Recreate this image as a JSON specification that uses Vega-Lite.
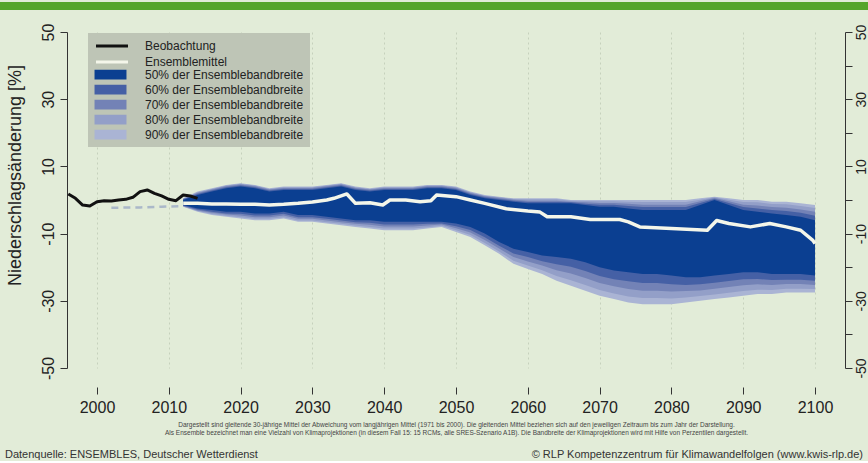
{
  "$schema": "https://vega.github.io/schema/vega-lite/v6.json",
  "background": "#e2ecd8",
  "padding": 0,
  "spacing": 12,
  "config": {
    "view": {"stroke": null},
    "font": "Liberation Sans",
    "axis": {"labelFont": "Liberation Sans", "titleFont": "Liberation Sans", "labelColor": "#222", "titleColor": "#222", "domainColor": "#333", "tickColor": "#333", "gridColor": "#b9c6b0", "gridDash": [2, 3], "gridOpacity": 0.7},
    "legend": {"labelFont": "Liberation Sans", "titleFont": "Liberation Sans", "labelLimit": 260}
  },
  "datasets": {
    "bands": [
      {"year":2012,"l90":-2.0,"l80":-1.9,"l70":-1.8,"l60":-1.7,"l50":-1.5,"u50":0.0,"u60":0.2,"u70":0.3,"u80":0.4,"u90":0.5},
      {"year":2014,"l90":-3.5,"l80":-3.3,"l70":-3.1,"l60":-2.8,"l50":-2.5,"u50":1.5,"u60":1.8,"u70":2.1,"u80":2.3,"u90":2.5},
      {"year":2016,"l90":-4.5,"l80":-4.2,"l70":-3.8,"l60":-3.5,"l50":-3.0,"u50":2.5,"u60":2.8,"u70":3.1,"u80":3.3,"u90":3.5},
      {"year":2018,"l90":-5.0,"l80":-4.7,"l70":-4.3,"l60":-4.0,"l50":-3.5,"u50":3.5,"u60":3.8,"u70":4.1,"u80":4.3,"u90":4.5},
      {"year":2020,"l90":-5.5,"l80":-5.1,"l70":-4.6,"l60":-4.1,"l50":-3.5,"u50":4.0,"u60":4.3,"u70":4.6,"u80":4.8,"u90":5.0},
      {"year":2022,"l90":-6.0,"l80":-5.6,"l70":-5.1,"l60":-4.6,"l50":-4.0,"u50":3.5,"u60":3.8,"u70":4.1,"u80":4.3,"u90":4.5},
      {"year":2024,"l90":-6.0,"l80":-5.6,"l70":-5.1,"l60":-4.6,"l50":-4.0,"u50":2.5,"u60":2.8,"u70":3.1,"u80":3.3,"u90":3.5},
      {"year":2026,"l90":-5.5,"l80":-5.1,"l70":-4.6,"l60":-4.1,"l50":-3.5,"u50":3.0,"u60":3.3,"u70":3.6,"u80":3.8,"u90":4.0},
      {"year":2028,"l90":-6.5,"l80":-6.1,"l70":-5.6,"l60":-5.1,"l50":-4.5,"u50":3.0,"u60":3.3,"u70":3.6,"u80":3.8,"u90":4.0},
      {"year":2030,"l90":-6.5,"l80":-6.1,"l70":-5.6,"l60":-5.1,"l50":-4.5,"u50":3.0,"u60":3.3,"u70":3.6,"u80":3.8,"u90":4.0},
      {"year":2032,"l90":-7.0,"l80":-6.6,"l70":-6.1,"l60":-5.6,"l50":-5.0,"u50":3.5,"u60":3.8,"u70":4.1,"u80":4.3,"u90":4.5},
      {"year":2034,"l90":-7.5,"l80":-7.1,"l70":-6.6,"l60":-6.1,"l50":-5.5,"u50":4.0,"u60":4.3,"u70":4.6,"u80":4.8,"u90":5.0},
      {"year":2036,"l90":-8.0,"l80":-7.6,"l70":-7.1,"l60":-6.6,"l50":-6.0,"u50":3.0,"u60":3.3,"u70":3.6,"u80":3.8,"u90":4.0},
      {"year":2038,"l90":-8.5,"l80":-8.0,"l70":-7.4,"l60":-6.8,"l50":-6.0,"u50":2.5,"u60":2.8,"u70":3.1,"u80":3.3,"u90":3.5},
      {"year":2040,"l90":-9.0,"l80":-8.5,"l70":-7.9,"l60":-7.3,"l50":-6.5,"u50":3.0,"u60":3.3,"u70":3.6,"u80":3.8,"u90":4.0},
      {"year":2042,"l90":-9.0,"l80":-8.5,"l70":-7.9,"l60":-7.3,"l50":-6.5,"u50":3.0,"u60":3.3,"u70":3.6,"u80":3.8,"u90":4.0},
      {"year":2044,"l90":-9.0,"l80":-8.5,"l70":-7.9,"l60":-7.3,"l50":-6.5,"u50":3.0,"u60":3.3,"u70":3.6,"u80":3.8,"u90":4.0},
      {"year":2046,"l90":-8.5,"l80":-8.1,"l70":-7.6,"l60":-7.1,"l50":-6.5,"u50":3.5,"u60":3.8,"u70":4.1,"u80":4.3,"u90":4.5},
      {"year":2048,"l90":-8.0,"l80":-7.7,"l70":-7.3,"l60":-7.0,"l50":-6.5,"u50":3.5,"u60":3.8,"u70":4.1,"u80":4.3,"u90":4.5},
      {"year":2050,"l90":-9.5,"l80":-9.0,"l70":-8.4,"l60":-7.8,"l50":-7.0,"u50":3.0,"u60":3.3,"u70":3.6,"u80":3.8,"u90":4.0},
      {"year":2052,"l90":-11.0,"l80":-10.4,"l70":-9.7,"l60":-8.9,"l50":-8.0,"u50":1.5,"u60":1.8,"u70":2.1,"u80":2.3,"u90":2.5},
      {"year":2054,"l90":-13.5,"l80":-12.8,"l70":-11.9,"l60":-11.1,"l50":-10.0,"u50":0.5,"u60":0.8,"u70":1.1,"u80":1.3,"u90":1.5},
      {"year":2056,"l90":-16.0,"l80":-15.3,"l70":-14.4,"l60":-13.6,"l50":-12.5,"u50":0.0,"u60":0.3,"u70":0.6,"u80":0.8,"u90":1.0},
      {"year":2058,"l90":-19.0,"l80":-18.1,"l70":-17.0,"l60":-15.9,"l50":-14.5,"u50":-0.5,"u60":-0.2,"u70":0.1,"u80":0.3,"u90":0.5},
      {"year":2060,"l90":-20.5,"l80":-19.5,"l70":-18.3,"l60":-17.0,"l50":-15.5,"u50":-1.0,"u60":-0.6,"u70":-0.2,"u80":0.2,"u90":0.5},
      {"year":2062,"l90":-22.0,"l80":-20.9,"l70":-19.5,"l60":-18.2,"l50":-16.5,"u50":-1.0,"u60":-0.6,"u70":-0.2,"u80":0.2,"u90":0.5},
      {"year":2064,"l90":-24.0,"l80":-22.6,"l70":-20.9,"l60":-19.1,"l50":-17.0,"u50":-1.0,"u60":-0.6,"u70":-0.2,"u80":0.2,"u90":0.5},
      {"year":2066,"l90":-25.5,"l80":-23.9,"l70":-21.9,"l60":-19.9,"l50":-17.5,"u50":-1.0,"u60":-0.7,"u70":-0.5,"u80":-0.2,"u90":0.0},
      {"year":2068,"l90":-27.0,"l80":-25.3,"l70":-23.2,"l60":-21.1,"l50":-18.5,"u50":-1.5,"u60":-1.1,"u70":-0.7,"u80":-0.3,"u90":0.0},
      {"year":2070,"l90":-28.5,"l80":-26.8,"l70":-24.7,"l60":-22.6,"l50":-20.0,"u50":-2.0,"u60":-1.4,"u70":-0.9,"u80":-0.4,"u90":0.0},
      {"year":2072,"l90":-29.5,"l80":-27.8,"l70":-25.7,"l60":-23.6,"l50":-21.0,"u50":-2.0,"u60":-1.4,"u70":-0.9,"u80":-0.4,"u90":0.0},
      {"year":2074,"l90":-30.5,"l80":-28.7,"l70":-26.5,"l60":-24.2,"l50":-21.5,"u50":-2.5,"u60":-1.8,"u70":-1.1,"u80":-0.5,"u90":0.0},
      {"year":2076,"l90":-31.0,"l80":-29.2,"l70":-27.0,"l60":-24.7,"l50":-22.0,"u50":-3.0,"u60":-2.1,"u70":-1.4,"u80":-0.6,"u90":0.0},
      {"year":2078,"l90":-31.0,"l80":-29.2,"l70":-27.0,"l60":-24.7,"l50":-22.0,"u50":-3.0,"u60":-2.1,"u70":-1.4,"u80":-0.6,"u90":0.0},
      {"year":2080,"l90":-31.0,"l80":-29.3,"l70":-27.2,"l60":-25.1,"l50":-22.5,"u50":-3.0,"u60":-2.1,"u70":-1.4,"u80":-0.6,"u90":0.0},
      {"year":2082,"l90":-30.5,"l80":-29.0,"l70":-27.1,"l60":-25.3,"l50":-23.0,"u50":-3.0,"u60":-2.1,"u70":-1.4,"u80":-0.6,"u90":0.0},
      {"year":2084,"l90":-30.0,"l80":-28.6,"l70":-26.9,"l60":-25.1,"l50":-23.0,"u50":-1.5,"u60":-0.9,"u70":-0.4,"u80":0.1,"u90":0.5},
      {"year":2086,"l90":-29.5,"l80":-28.1,"l70":-26.4,"l60":-24.6,"l50":-22.5,"u50":0.0,"u60":0.3,"u70":0.6,"u80":0.8,"u90":1.0},
      {"year":2088,"l90":-29.0,"l80":-27.6,"l70":-25.9,"l60":-24.1,"l50":-22.0,"u50":-1.5,"u60":-0.9,"u70":-0.4,"u80":0.1,"u90":0.5},
      {"year":2090,"l90":-28.5,"l80":-27.1,"l70":-25.4,"l60":-23.6,"l50":-21.5,"u50":-3.0,"u60":-2.1,"u70":-1.4,"u80":-0.6,"u90":0.0},
      {"year":2092,"l90":-28.0,"l80":-26.7,"l70":-25.1,"l60":-23.5,"l50":-21.5,"u50":-3.5,"u60":-2.5,"u70":-1.6,"u80":-0.7,"u90":0.0},
      {"year":2094,"l90":-28.0,"l80":-26.8,"l70":-25.3,"l60":-23.8,"l50":-22.0,"u50":-4.0,"u60":-3.0,"u70":-2.1,"u80":-1.2,"u90":-0.5},
      {"year":2096,"l90":-27.5,"l80":-26.4,"l70":-25.0,"l60":-23.7,"l50":-22.0,"u50":-4.5,"u60":-3.3,"u70":-2.3,"u80":-1.3,"u90":-0.5},
      {"year":2098,"l90":-27.5,"l80":-26.4,"l70":-25.0,"l60":-23.7,"l50":-22.0,"u50":-5.0,"u60":-3.8,"u70":-2.8,"u80":-1.8,"u90":-1.0},
      {"year":2100,"l90":-27.5,"l80":-26.5,"l70":-25.3,"l60":-24.0,"l50":-22.5,"u50":-6.0,"u60":-4.7,"u70":-3.5,"u80":-2.4,"u90":-1.5}
    ],
    "obs": [
      {"year":1996,"value":1.8},{"year":1997,"value":0.5},{"year":1998,"value":-1.5},{"year":1999,"value":-1.8},
      {"year":2000,"value":-0.5},{"year":2001,"value":-0.2},{"year":2002,"value":-0.3},{"year":2003,"value":0.0},
      {"year":2004,"value":0.2},{"year":2005,"value":0.8},{"year":2006,"value":2.5},{"year":2007,"value":3.0},
      {"year":2008,"value":2.0},{"year":2009,"value":1.2},{"year":2010,"value":0.2},{"year":2011,"value":-0.2},
      {"year":2012,"value":1.5},{"year":2013,"value":1.2},{"year":2014,"value":0.5}
    ],
    "ref": [
      {"year":2002,"value":-2.3},{"year":2006,"value":-2.2},{"year":2009,"value":-2.0},{"year":2012,"value":-1.8}
    ],
    "mean": [
      {"year":2012,"value":-1.0},{"year":2014,"value":-1.0},{"year":2016,"value":-1.2},{"year":2018,"value":-1.2},
      {"year":2020,"value":-1.3},{"year":2022,"value":-1.3},{"year":2024,"value":-1.5},{"year":2026,"value":-1.3},
      {"year":2028,"value":-1.0},{"year":2030,"value":-0.6},{"year":2032,"value":0.0},{"year":2033,"value":0.5},
      {"year":2034.8,"value":1.8},{"year":2036,"value":-1.0},{"year":2038,"value":-0.8},{"year":2039.8,"value":-1.5},
      {"year":2040.8,"value":0.0},{"year":2043,"value":0.0},{"year":2045,"value":-0.5},{"year":2046.5,"value":-0.2},
      {"year":2047.3,"value":1.5},{"year":2050,"value":1.0},{"year":2052,"value":0.0},{"year":2054,"value":-1.0},
      {"year":2057,"value":-2.6},{"year":2060,"value":-3.3},{"year":2061.7,"value":-3.6},{"year":2062.7,"value":-5.0},
      {"year":2066,"value":-5.0},{"year":2068.7,"value":-5.8},{"year":2072.8,"value":-5.8},{"year":2074,"value":-6.5},
      {"year":2075.6,"value":-8.0},{"year":2080,"value":-8.5},{"year":2085,"value":-9.0},{"year":2086.3,"value":-6.1},
      {"year":2088,"value":-7.0},{"year":2091,"value":-8.0},{"year":2093.7,"value":-7.0},{"year":2096,"value":-8.0},
      {"year":2098,"value":-9.0},{"year":2099.7,"value":-12.0},{"year":2100,"value":-13.0}
    ],
    "gridlevels": [
      {"level":-50},{"level":-40},{"level":-30},{"level":-20},{"level":-10},{"level":0},
      {"level":10},{"level":20},{"level":30},{"level":40},{"level":50}
    ],
    "footer": [
      {"side":"links","text":"Datenquelle: ENSEMBLES, Deutscher Wetterdienst"},
      {"side":"rechts","text":"© RLP Kompetenzzentrum für Klimawandelfolgen (www.kwis-rlp.de)"}
    ]
  },
  "vconcat": [
    {
      "width": 868,
      "height": 8,
      "view": {"fill": "#55a52a", "stroke": null},
      "data": {"values": [{}]},
      "mark": {"type": "text", "text": ""},
      "encoding": {}
    },
    {
      "width": 868,
      "height": 336,
      "layer": [
        {
          "encoding": {
            "x": {
              "field": "year", "type": "quantitative",
              "scale": {"domain": [1986.49, 2107.38], "nice": false, "zero": false},
              "axis": {
                "values": [2000,2010,2020,2030,2040,2050,2060,2070,2080,2090,2100],
                "format": "d", "offset": 19, "tickSize": 7, "labelFontSize": 16, "labelPadding": 5,
                "labelFlush": false, "grid": true, "domain": false,
                "title": ["Dargestellt sind gleitende 30-jährige Mittel der Abweichung vom langjährigen Mittel (1971 bis 2000). Die gleitenden Mittel beziehen sich auf den jeweiligen Zeitraum bis zum Jahr der Darstellung.", "Als Ensemble bezeichnet man eine Vielzahl von Klimaprojektionen (in diesem Fall 15: 15 RCMs, alle SRES-Szenario A1B). Die Bandbreite der Klimaprojektionen wird mit Hilfe von Perzentilen dargestellt."],
                "titleFontSize": 6.5, "titleFontWeight": "normal", "titleColor": "#444", "titlePadding": 6, "titleLineHeight": 8, "titleX": 456
              }
            }
          },
          "layer": [
            {
              "data": {"name": "gridlevels"},
              "mark": {"type": "rule", "color": "#b9c6b0", "strokeDash": [2, 3], "opacity": 0.7},
              "encoding": {
                "x": {"datum": 1996, "type": "quantitative"},
                "x2": {"datum": 2104},
                "y": {
                  "field": "level", "type": "quantitative",
                  "scale": {"domain": [-50, 50], "nice": false, "zero": false},
                  "axis": {
                    "orient": "left", "offset": -67,
                    "values": [-50,-40,-30,-20,-10,0,10,20,30,40,50],
                    "labelExpr": "abs(datum.value) % 20 == 10 ? toString(datum.value) : ''",
                    "labelAngle": -90, "labelFontSize": 16, "labelPadding": 4, "tickSize": 7,
                    "grid": false,
                    "title": "Niederschlagsänderung [%]", "titleFontSize": 18, "titleFontWeight": "normal",
                    "titlePadding": 16, "titleY": 143
                  }
                }
              }
            },
            {
              "data": {"name": "bands"},
              "mark": {"type": "area", "opacity": 1},
              "encoding": {
                "y": {"field": "l90", "type": "quantitative", "scale": {"domain": [-50, 50], "nice": false, "zero": false}},
                "y2": {"field": "u90"},
                "fill": {
                  "datum": "90% der Ensemblebandbreite", "type": "nominal",
                  "scale": {
                    "domain": ["50% der Ensemblebandbreite", "60% der Ensemblebandbreite", "70% der Ensemblebandbreite", "80% der Ensemblebandbreite", "90% der Ensemblebandbreite"],
                    "range": ["#0b3f91", "#4560a5", "#7382b6", "#939fc8", "#aab4d4"]
                  },
                  "legend": {
                    "title": [" ", " "], "titleFontSize": 12, "titleLineHeight": 16, "titlePadding": 0,
                    "orient": "none", "legendX": 88, "legendY": 31,
                    "fillColor": "#bec5b6", "padding": 6,
                    "labelFontSize": 12, "labelColor": "#222", "labelOffset": 27, "labelLimit": 260,
                    "symbolType": "M-2.13,-0.65H2.13V0.65H-2.13Z", "symbolSize": 225, "symbolOffset": 9,
                    "symbolStrokeWidth": 0, "symbolOpacity": 1, "rowPadding": 1
                  }
                }
              }
            },
            {
              "data": {"name": "bands"},
              "mark": {"type": "area", "opacity": 1},
              "encoding": {
                "y": {"field": "l80", "type": "quantitative", "scale": {"domain": [-50, 50], "nice": false, "zero": false}},
                "y2": {"field": "u80"},
                "fill": {"datum": "80% der Ensemblebandbreite", "type": "nominal"}
              }
            },
            {
              "data": {"name": "bands"},
              "mark": {"type": "area", "opacity": 1},
              "encoding": {
                "y": {"field": "l70", "type": "quantitative", "scale": {"domain": [-50, 50], "nice": false, "zero": false}},
                "y2": {"field": "u70"},
                "fill": {"datum": "70% der Ensemblebandbreite", "type": "nominal"}
              }
            },
            {
              "data": {"name": "bands"},
              "mark": {"type": "area", "opacity": 1},
              "encoding": {
                "y": {"field": "l60", "type": "quantitative", "scale": {"domain": [-50, 50], "nice": false, "zero": false}},
                "y2": {"field": "u60"},
                "fill": {"datum": "60% der Ensemblebandbreite", "type": "nominal"}
              }
            },
            {
              "data": {"name": "bands"},
              "mark": {"type": "area", "opacity": 1},
              "encoding": {
                "y": {"field": "l50", "type": "quantitative", "scale": {"domain": [-50, 50], "nice": false, "zero": false}},
                "y2": {"field": "u50"},
                "fill": {"datum": "50% der Ensemblebandbreite", "type": "nominal"}
              }
            },
            {
              "data": {"values": [{}]},
              "mark": {"type": "rule", "color": "#000000", "strokeWidth": 2},
              "encoding": {
                "x": {"datum": 2013.5, "type": "quantitative"},
                "x2": {"datum": 2104},
                "y": {"datum": 0, "type": "quantitative", "scale": {"domain": [-50, 50], "nice": false, "zero": false}}
              }
            },
            {
              "data": {"values": [{}]},
              "mark": {"type": "rule", "color": "#333333", "strokeWidth": 1},
              "encoding": {
                "x": {"datum": 2000, "type": "quantitative"},
                "x2": {"datum": 2100},
                "y": {"datum": -55.65, "type": "quantitative", "scale": {"domain": [-50, 50], "nice": false, "zero": false}}
              }
            },
            {
              "data": {"name": "ref"},
              "mark": {"type": "line", "color": "#8696c0", "strokeWidth": 2.5, "strokeDash": [7, 5], "opacity": 0.6},
              "encoding": {
                "y": {"field": "value", "type": "quantitative", "scale": {"domain": [-50, 50], "nice": false, "zero": false}}
              }
            },
            {
              "data": {"name": "obs"},
              "mark": {"type": "line", "strokeWidth": 3, "strokeJoin": "round"},
              "encoding": {
                "y": {"field": "value", "type": "quantitative", "scale": {"domain": [-50, 50], "nice": false, "zero": false}},
                "stroke": {
                  "datum": "Beobachtung", "type": "nominal",
                  "scale": {"domain": ["Beobachtung", "Ensemblemittel"], "range": ["#111111", "#f4f6ea"]},
                  "legend": {
                    "title": null, "orient": "none", "legendX": 88, "legendY": 29,
                    "padding": 6,
                    "labelFontSize": 12, "labelColor": "#222", "labelOffset": 24, "labelLimit": 260,
                    "symbolType": "M-2.13,0H2.13", "symbolSize": 225, "symbolOffset": 9,
                    "symbolStrokeWidth": 3, "symbolOpacity": 1, "rowPadding": 1
                  }
                }
              }
            }
          ]
        },
        {
          "data": {"name": "mean"},
          "mark": {"type": "line", "strokeWidth": 3.5, "strokeJoin": "round"},
          "encoding": {
            "x": {"field": "year", "type": "quantitative"},
            "y": {
              "field": "value", "type": "quantitative",
              "scale": {"domain": [-50, 50], "nice": false, "zero": false},
              "axis": {
                "orient": "right", "offset": -23,
                "values": [-50,-40,-30,-20,-10,0,10,20,30,40,50],
                "labelExpr": "abs(datum.value) % 20 == 10 ? toString(datum.value) : ''",
                "labelAngle": -90, "labelFontSize": 14, "labelPadding": 2, "tickSize": 7,
                "grid": false, "title": null
              }
            },
            "stroke": {"datum": "Ensemblemittel", "type": "nominal"}
          }
        }
      ],
      "resolve": {"scale": {"y": "independent"}, "axis": {"y": "independent"}}
    },
    {
      "width": 868,
      "height": 13,
      "data": {"name": "footer"},
      "encoding": {
        "x": {"field": "side", "type": "nominal", "scale": {"type": "point", "domain": ["links", "rechts"], "range": [5, 863], "padding": 0}, "axis": null},
        "text": {"field": "text"}
      },
      "layer": [
        {"transform": [{"filter": "datum.side == 'links'"}], "mark": {"type": "text", "align": "left", "fontSize": 11, "color": "#333"}},
        {"transform": [{"filter": "datum.side == 'rechts'"}], "mark": {"type": "text", "align": "right", "fontSize": 11, "color": "#333"}}
      ]
    }
  ]
}
